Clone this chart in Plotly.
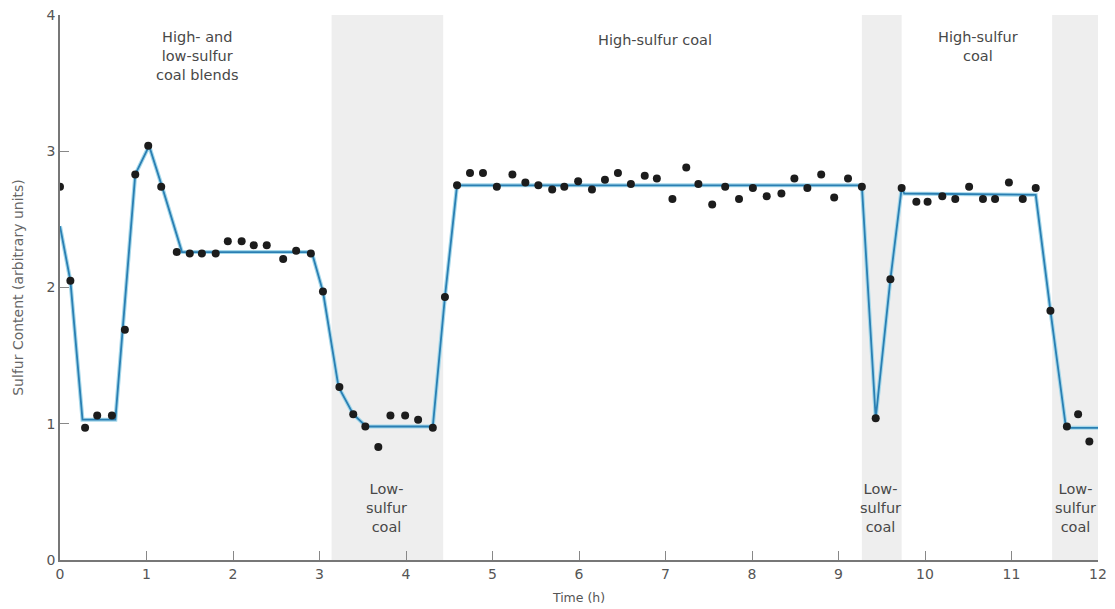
import plotly.graph_objects as go

# Measured points (time in h, sulfur content in arbitrary units)
time_pts = [0.00, 0.12, 0.29, 0.43, 0.60, 0.75, 0.87, 1.02, 1.17, 1.35, 1.50, 1.64, 1.80,
            1.94, 2.10, 2.24, 2.39, 2.58, 2.73, 2.90, 3.04, 3.23, 3.39, 3.53, 3.68, 3.82,
            3.99, 4.14, 4.31, 4.45, 4.59, 4.74, 4.89, 5.05, 5.23, 5.38, 5.53, 5.69, 5.83,
            5.99, 6.15, 6.30, 6.45, 6.60, 6.76, 6.90, 7.08, 7.24, 7.38, 7.54, 7.69, 7.85,
            8.01, 8.17, 8.34, 8.49, 8.64, 8.80, 8.95, 9.11, 9.27, 9.43, 9.60, 9.73, 9.90,
            10.03, 10.20, 10.35, 10.51, 10.67, 10.81, 10.97, 11.13, 11.28, 11.45, 11.64,
            11.77, 11.90]
sulfur_pts = [2.74, 2.05, 0.97, 1.06, 1.06, 1.69, 2.83, 3.04, 2.74, 2.26, 2.25, 2.25, 2.25,
              2.34, 2.34, 2.31, 2.31, 2.21, 2.27, 2.25, 1.97, 1.27, 1.07, 0.98, 0.83, 1.06,
              1.06, 1.03, 0.97, 1.93, 2.75, 2.84, 2.84, 2.74, 2.83, 2.77, 2.75, 2.72, 2.74,
              2.78, 2.72, 2.79, 2.84, 2.76, 2.82, 2.80, 2.65, 2.88, 2.76, 2.61, 2.74, 2.65,
              2.73, 2.67, 2.69, 2.80, 2.73, 2.83, 2.66, 2.80, 2.74, 1.04, 2.06, 2.73, 2.63,
              2.63, 2.67, 2.65, 2.74, 2.65, 2.65, 2.77, 2.65, 2.73, 1.83, 0.98, 1.07, 0.87]

# Model curve vertices
model_time = [0.00, 0.12, 0.26, 0.64, 0.87, 1.03, 1.18, 1.41, 2.91, 3.04, 3.22, 3.39, 3.54,
              4.31, 4.45, 4.59, 9.27, 9.43, 9.60, 9.73, 9.76, 11.28, 11.45, 11.63, 12.00]
model_sulfur = [2.45, 2.05, 1.03, 1.03, 2.83, 3.04, 2.74, 2.26, 2.26, 1.97, 1.27, 1.07, 0.98,
                0.98, 1.93, 2.75, 2.75, 1.04, 2.06, 2.73, 2.69, 2.68, 1.83, 0.97, 0.97]

# Low-sulfur coal periods (shaded)
band_start = [3.14, 9.27, 11.47]
band_end = [4.43, 9.73, 12.00]

# Labels
label_text = ["High- and<br>low-sulfur<br>coal blends", "High-sulfur coal", "High-sulfur<br>coal",
              "Low-<br>sulfur<br>coal", "Low-<br>sulfur<br>coal", "Low-<br>sulfur<br>coal"]
label_x = [1.58, 6.88, 10.61, 3.78, 9.49, 11.74]
label_y = [3.70, 3.82, 3.77, 0.38, 0.38, 0.38]

x_ticks = list(range(0, 13))
y_ticks = [0, 1, 2, 3, 4]

FONT = "DejaVu Sans, Liberation Sans, sans-serif"

fig = go.Figure()

for s, e in zip(band_start, band_end):
    fig.add_shape(type="rect", xref="x", yref="y", x0=s, x1=e, y0=0, y1=4,
                  fillcolor="#eeeeee", line_width=0, layer="below")

fig.add_trace(go.Scatter(x=model_time, y=model_sulfur, mode="lines",
                         line=dict(color="#a6d8ea", width=4), hoverinfo="skip",
                         showlegend=False))
fig.add_trace(go.Scatter(x=model_time, y=model_sulfur, mode="lines",
                         line=dict(color="#2a7fb3", width=1.8), showlegend=False))
fig.add_trace(go.Scatter(x=time_pts, y=sulfur_pts, mode="markers",
                         marker=dict(color="#1c1c1c", size=8), showlegend=False))

for t, x, y in zip(label_text, label_x, label_y):
    fig.add_annotation(x=x, y=y, text=t, showarrow=False, xref="x", yref="y",
                       font=dict(family=FONT, size=14.5, color="#484848"), align="center")

fig.update_layout(
    width=1107, height=601,
    margin=dict(l=52, r=17, t=7, b=49),
    paper_bgcolor="white", plot_bgcolor="white",
    font=dict(family=FONT, color="#555555"),
    xaxis=dict(range=[0, 12], tickvals=x_ticks, ticks="inside", ticklen=9,
               tickcolor="#888888", showline=True, linecolor="#777777", linewidth=1.5,
               showgrid=False, zeroline=False, tickfont=dict(size=14, color="#555555"),
               automargin=False, ticklabeloverflow="allow",
               title=dict(text="Time (h)", font=dict(size=12.5, color="#555555"), standoff=13)),
    yaxis=dict(range=[0, 4], tickvals=y_ticks, ticks="inside", ticklen=9,
               tickcolor="#888888", showline=True, linecolor="#777777", linewidth=1.5,
               showgrid=False, zeroline=False, tickfont=dict(size=14, color="#555555"),
               automargin=False, ticklabeloverflow="allow",
               title=dict(text="Sulfur Content (arbitrary units)",
                          font=dict(size=14, color="#666666"), standoff=20)),
)

fig.write_html("out.html")
